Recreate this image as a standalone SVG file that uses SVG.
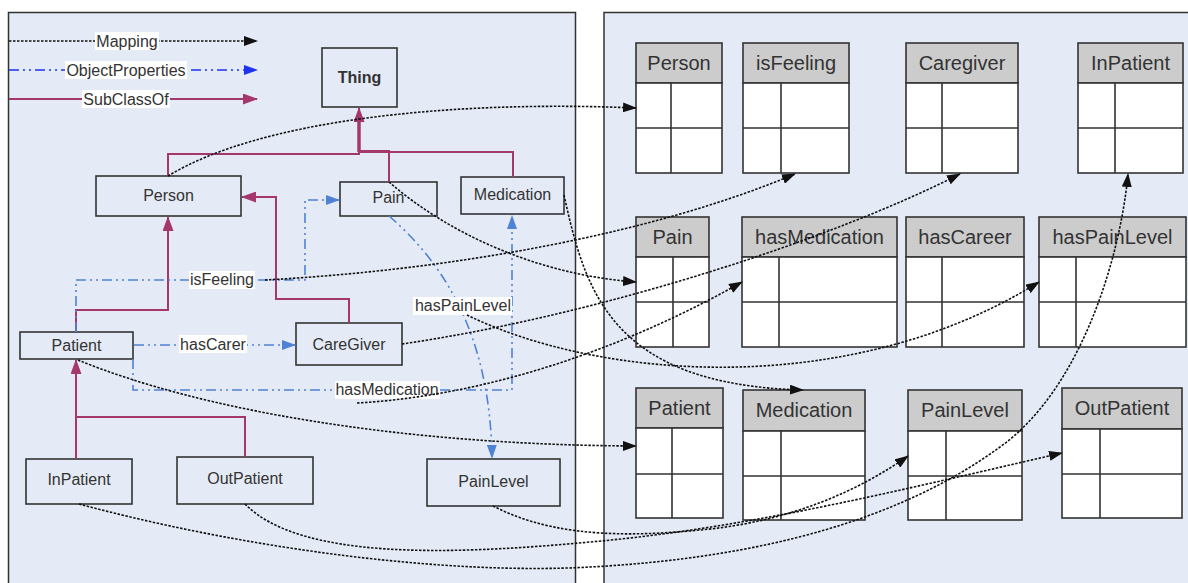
<svg xmlns="http://www.w3.org/2000/svg" width="1188" height="583" viewBox="0 0 1188 583">
<defs>
<style>
.panel{fill:#e5ebf6;stroke:#333;stroke-width:1.5}
.node{fill:#e5ebf6;stroke:#333;stroke-width:1.6}
.ntext{font-family:"Liberation Sans",Arial,sans-serif;font-size:16px;fill:#333;text-anchor:middle}
.ttext{font-family:"Liberation Sans",Arial,sans-serif;font-size:20px;fill:#333;text-anchor:middle}
.lbl{font-family:"Liberation Sans",Arial,sans-serif;font-size:16px;fill:#333;text-anchor:middle}
.lblbg{fill:#fff}
.thead{fill:#cccccc;stroke:#333;stroke-width:1.6}
.tbody{fill:#fff;stroke:#333;stroke-width:1.6}
.tline{stroke:#333;stroke-width:1.6;fill:none}
.map{fill:none;stroke:#111;stroke-width:1.6;stroke-dasharray:2.5 1.5;marker-end:url(#aMap)}
.op{fill:none;stroke:#4f82d4;stroke-width:1.6;stroke-dasharray:10 4 2 4 2 4}
.opA{marker-end:url(#aOp)}
.sub{fill:none;stroke:#a4386c;stroke-width:2}
.subA{marker-end:url(#aSub)}
</style>
<marker id="aMap" viewBox="0 0 14 10" refX="13" refY="5" markerWidth="14" markerHeight="10" markerUnits="userSpaceOnUse" orient="auto"><path d="M0,0 L14,5 L0,10 z" fill="#111"/></marker>
<marker id="aOp" viewBox="0 0 14 10" refX="13" refY="5" markerWidth="14" markerHeight="10" markerUnits="userSpaceOnUse" orient="auto"><path d="M0,0 L14,5 L0,10 z" fill="#4f82d4"/></marker>
<marker id="aOpL" viewBox="0 0 14 10" refX="13" refY="5" markerWidth="14" markerHeight="10" markerUnits="userSpaceOnUse" orient="auto"><path d="M0,0 L14,5 L0,10 z" fill="#1e32f0"/></marker>
<marker id="aSub" viewBox="0 0 15 11" refX="14" refY="5.5" markerWidth="15" markerHeight="11" markerUnits="userSpaceOnUse" orient="auto"><path d="M0,0 L15,5.5 L0,11 z" fill="#a4386c"/></marker>
</defs>
<rect width="1188" height="583" fill="#fff"/>
<g id="panels">
<rect class="panel" x="8.5" y="12.5" width="567" height="580"/>
<rect class="panel" x="604" y="12.5" width="600" height="580"/>
</g>
<g id="legend">
<line x1="9" y1="41" x2="257" y2="41" style="stroke:#111;stroke-width:1.6;stroke-dasharray:2.5 1.5;marker-end:url(#aMap)"/>
<rect class="lblbg" x="95" y="32" width="64" height="18"/>
<text class="lbl" x="127" y="47">Mapping</text>
<line x1="9" y1="70" x2="257" y2="70" style="stroke:#1e32f0;stroke-width:1.6;stroke-dasharray:10 4 2 4 2 4;marker-end:url(#aOpL)"/>
<rect class="lblbg" x="65" y="61" width="122" height="18"/>
<text class="lbl" x="126" y="76">ObjectProperties</text>
<line x1="9" y1="99" x2="257" y2="99" style="stroke:#a4386c;stroke-width:2;marker-end:url(#aSub)"/>
<rect class="lblbg" x="82" y="90" width="88" height="18"/>
<text class="lbl" x="126" y="105">SubClassOf</text>
</g>
<g id="node-thing"><rect class="node" x="322" y="48" width="75" height="59"/><text class="ntext" x="359.5" y="83" style="font-weight:bold">Thing</text></g>
<g id="node-person"><rect class="node" x="96" y="176" width="145" height="40"/><text class="ntext" x="168.5" y="201">Person</text></g>
<g id="node-pain"><rect class="node" x="340" y="182" width="97" height="34"/><text class="ntext" x="388.5" y="203">Pain</text></g>
<g id="node-medication"><rect class="node" x="461" y="177" width="103" height="37"/><text class="ntext" x="512.5" y="200">Medication</text></g>
<g id="node-patient"><rect class="node" x="20" y="332" width="113" height="27"/><text class="ntext" x="76.5" y="351">Patient</text></g>
<g id="node-caregiver"><rect class="node" x="296" y="323" width="106" height="42"/><text class="ntext" x="349" y="350">CareGiver</text></g>
<g id="node-inpatient"><rect class="node" x="26" y="459" width="106" height="45"/><text class="ntext" x="79" y="485">InPatient</text></g>
<g id="node-outpatient"><rect class="node" x="177" y="457" width="136" height="47"/><text class="ntext" x="245" y="484">OutPatient</text></g>
<g id="node-painlevel"><rect class="node" x="427" y="459" width="133" height="47"/><text class="ntext" x="493.5" y="487">PainLevel</text></g>
<g id="table-person"><rect class="thead" x="636" y="43" width="86" height="40"/><rect class="tbody" x="636" y="83" width="86" height="90"/><path class="tline" d="M636,128 H722 M671,83 V173"/><text class="ttext" x="679" y="70">Person</text></g>
<g id="table-isfeeling"><rect class="thead" x="743" y="43" width="106" height="40"/><rect class="tbody" x="743" y="83" width="106" height="90"/><path class="tline" d="M743,128 H849 M781,83 V173"/><text class="ttext" x="796" y="70">isFeeling</text></g>
<g id="table-caregiver"><rect class="thead" x="906" y="43" width="112" height="40"/><rect class="tbody" x="906" y="83" width="112" height="90"/><path class="tline" d="M906,128 H1018 M942,83 V173"/><text class="ttext" x="962" y="70">Caregiver</text></g>
<g id="table-inpatient"><rect class="thead" x="1078" y="43" width="105" height="40"/><rect class="tbody" x="1078" y="83" width="105" height="90"/><path class="tline" d="M1078,128 H1183 M1115,83 V173"/><text class="ttext" x="1130.5" y="70">InPatient</text></g>
<g id="table-pain"><rect class="thead" x="636" y="217" width="73" height="40"/><rect class="tbody" x="636" y="257" width="73" height="90"/><path class="tline" d="M636,302 H709 M673,257 V347"/><text class="ttext" x="672.5" y="244">Pain</text></g>
<g id="table-hasmedication"><rect class="thead" x="742" y="217" width="155" height="40"/><rect class="tbody" x="742" y="257" width="155" height="90"/><path class="tline" d="M742,302 H897 M779,257 V347"/><text class="ttext" x="819.5" y="244">hasMedication</text></g>
<g id="table-hascareer"><rect class="thead" x="906" y="217" width="118" height="40"/><rect class="tbody" x="906" y="257" width="118" height="90"/><path class="tline" d="M906,302 H1024 M942,257 V347"/><text class="ttext" x="965" y="244">hasCareer</text></g>
<g id="table-haspainlevel"><rect class="thead" x="1039" y="217" width="147" height="40"/><rect class="tbody" x="1039" y="257" width="147" height="90"/><path class="tline" d="M1039,302 H1186 M1076,257 V347"/><text class="ttext" x="1112.5" y="244">hasPainLevel</text></g>
<g id="table-patient"><rect class="thead" x="636" y="388" width="87" height="40"/><rect class="tbody" x="636" y="428" width="87" height="90"/><path class="tline" d="M636,474 H723 M672,428 V518"/><text class="ttext" x="679.5" y="415">Patient</text></g>
<g id="table-medication"><rect class="thead" x="743" y="390" width="122" height="41"/><rect class="tbody" x="743" y="431" width="122" height="89"/><path class="tline" d="M743,476 H865 M781,431 V520"/><text class="ttext" x="804" y="417">Medication</text></g>
<g id="table-painlevel"><rect class="thead" x="908" y="390" width="114" height="41"/><rect class="tbody" x="908" y="431" width="114" height="89"/><path class="tline" d="M908,476 H1022 M946,431 V520"/><text class="ttext" x="965" y="417">PainLevel</text></g>
<g id="table-outpatient"><rect class="thead" x="1062" y="388" width="120" height="41"/><rect class="tbody" x="1062" y="429" width="120" height="89"/><path class="tline" d="M1062,474 H1182 M1100,429 V518"/><text class="ttext" x="1122" y="415">OutPatient</text></g>
<g id="connectors">
<path class="sub subA" d="M168,176 V154 H359 V108"/>
<path class="sub" d="M389,182 V151 H359"/>
<path class="sub" d="M513,177 V152 H359"/>
<path class="sub" d="M359,152 V120" style="stroke-width:3.5"/>
<path class="sub subA" d="M76,332 V310 H168 V217"/>
<path class="sub subA" d="M349,323 V299 H276 V197 H242"/>
<path class="sub subA" d="M76,459 V360"/>
<path class="sub" d="M245,457 V417 H76"/>
<path class="op opA" d="M76,332 V280 H305 V200 H339"/>
<path class="op opA" d="M134,345 H295"/>
<path class="op opA" d="M133,359 V390 H512 V216"/>
<path class="op opA" d="M389,216 C440,260 490,330 492,458"/>
<rect class="lblbg" x="189" y="271" width="66" height="18"/>
<text class="lbl" x="222" y="285">isFeeling</text>
<rect class="lblbg" x="179" y="335" width="68" height="18"/>
<text class="lbl" x="213" y="350">hasCarer</text>
<rect class="lblbg" x="335" y="381" width="105" height="18"/>
<text class="lbl" x="387" y="395">hasMedication</text>
<rect class="lblbg" x="413" y="297" width="99" height="18"/>
<text class="lbl" x="463" y="311">hasPainLevel</text>
<path class="map" d="M168,176 C260,120 450,100 636,108"/>
<path class="map" d="M265,280 C450,270 650,235 795,174"/>
<path class="map" d="M389,182 C450,235 540,275 636,282"/>
<path class="map" d="M564,195 C585,290 610,385 803,390"/>
<path class="map" d="M402,344 C600,315 830,240 960,174"/>
<path class="map" d="M467,315 C600,380 850,400 1039,282"/>
<path class="map" d="M357,403 C500,395 640,340 742,282"/>
<path class="map" d="M78,360 C200,410 400,445 636,446"/>
<path class="map" d="M79,504 C250,550 450,575 590,567 C760,558 900,520 1000,447 C1080,390 1120,260 1128,174"/>
<path class="map" d="M245,504 C300,560 450,555 590,542 C750,528 900,490 1062,453"/>
<path class="map" d="M493,506 C540,530 600,540 700,530 C790,522 860,490 908,456"/>
</g>
</svg>
